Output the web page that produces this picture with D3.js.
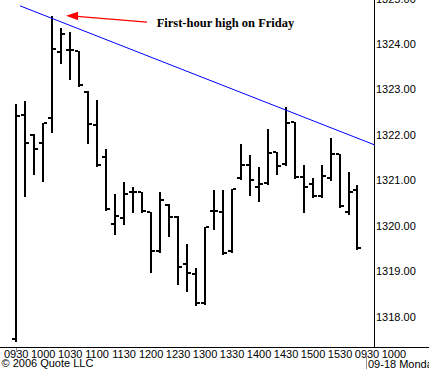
<!DOCTYPE html>
<html>
<head>
<meta charset="utf-8">
<script src="https://cdn.jsdelivr.net/npm/d3@7"></script>
<style>
  body { margin: 0; background: #fff; }
  svg { display: block; }
</style>
</head>
<body>
<div id="bar-chart"></div>
<script>
// 10-minute OHLC bars, Friday session (bar index 0 = 0930)
const opens = [1317.50, 1322.43, 1322.00, 1321.83, 1322.38, 1323.83, 1323.87, 1323.85, 1322.95, 1322.22,
  1321.51, 1320.05, 1320.18, 1320.75, 1320.75, 1320.30, 1319.45, 1320.45, 1320.19, 1319.16,
  1318.95, 1318.31, 1320.33, 1320.31, 1319.45, 1321.05, 1321.34, 1320.86, 1320.95, 1321.63,
  1321.35, 1322.29, 1321.08, 1320.93, 1320.66, 1321.05, 1321.58, 1320.30, 1320.79];
const highs = [1322.67, 1322.75, 1322.03, 1322.27, 1324.62, 1324.35, 1324.26, 1323.85, 1322.97, 1322.77,
  1321.70, 1320.69, 1320.97, 1320.86, 1320.75, 1320.31, 1320.75, 1320.47, 1320.22, 1319.59,
  1319.08, 1319.98, 1320.79, 1320.79, 1320.81, 1321.80, 1321.56, 1321.29, 1322.13, 1321.63,
  1322.62, 1322.29, 1321.34, 1321.06, 1321.34, 1321.94, 1321.58, 1321.18, 1320.90];
const lows = [1317.47, 1320.66, 1321.13, 1320.99, 1322.07, 1323.58, 1323.22, 1323.08, 1321.83, 1321.32,
  1320.35, 1319.81, 1320.05, 1320.30, 1320.31, 1318.98, 1319.42, 1319.78, 1318.73, 1318.57,
  1318.26, 1318.29, 1319.94, 1319.38, 1319.43, 1321.02, 1320.68, 1320.55, 1320.93, 1321.13,
  1321.34, 1321.06, 1320.30, 1320.63, 1320.63, 1321.01, 1320.42, 1320.26, 1319.49];
const closes = [1322.42, 1321.83, 1321.70, 1322.27, 1323.89, 1324.21, 1323.87, 1323.10, 1322.24, 1321.34,
  1320.36, 1320.22, 1320.71, 1320.75, 1320.32, 1319.45, 1320.57, 1320.19, 1319.10, 1318.97,
  1318.31, 1319.98, 1320.33, 1319.41, 1320.81, 1321.34, 1321.01, 1320.93, 1321.61, 1321.32,
  1322.27, 1321.08, 1320.85, 1320.66, 1321.10, 1321.59, 1320.44, 1320.75, 1319.52];

const timeLabels = ["0930", "1000", "1030", "1100", "1130", "1200", "1230", "1300", "1330",
  "1400", "1430", "1500", "1530", "0930", "1000"];
const timeLabelBars = [0, 3, 6, 9, 12, 15, 18, 21, 24, 27, 30, 33, 36, 39, 42];
const priceTicks = [1318, 1319, 1320, 1321, 1322, 1323, 1324, 1325];
const dayStarts = [0, 39];
const dayLabels = ["", "09-18 Monday"];

// trend line across Friday highs, and the annotation
const trendBars = [0.48, 39.9];
const trendPrices = [1324.84, 1321.78];
const arrowBars = [14.6, 5.6];
const arrowPrices = [1324.48, 1324.62];
const noteText = "First-hour high on Friday";
const noteBar = 15.67;
const notePrice = 1324.38;

const width = 429;
const height = 369;
const plotRight = 374.5;
const plotBottom = 347;

const bars = opens.map((o, i) => ({ i, o, h: highs[i], l: lows[i], c: closes[i] }));

const svg = d3.select("#bar-chart")
  .append("svg")
  .attr("width", width)
  .attr("height", height)
  .attr("viewBox", `0 0 ${width} ${height}`);

svg.append("rect").attr("width", width).attr("height", height).attr("fill", "#fff");

const xScale = d3.scaleLinear()
  .domain([-1.744, 39.89])
  .range([0, plotRight]);
const yScale = d3.scaleLinear()
  .domain([1318, 1324])
  .range([316.7, 44]);

// axis lines
svg.append("line")
  .attr("x1", 0).attr("x2", width)
  .attr("y1", plotBottom + 0.5).attr("y2", plotBottom + 0.5)
  .attr("stroke", "#000");
svg.append("line")
  .attr("x1", plotRight).attr("x2", plotRight)
  .attr("y1", 0).attr("y2", plotBottom)
  .attr("stroke", "#000");

// price labels on the right
const rightAxis = d3.axisRight(yScale)
  .tickValues(priceTicks)
  .tickFormat(d3.format(".2f"))
  .tickSize(0)
  .tickPadding(1.5);
svg.append("g")
  .attr("transform", `translate(${plotRight},0)`)
  .call(rightAxis)
  .call(g => g.select(".domain").remove())
  .selectAll("text")
    .attr("font-family", "Liberation Sans, Arial, sans-serif")
    .attr("font-size", 11)
    .attr("fill", "#000");

// time labels under the chart
const bottomAxis = d3.axisBottom(xScale)
  .tickValues(timeLabelBars)
  .tickFormat((d, k) => timeLabels[k])
  .tickSize(0)
  .tickPadding(3);
svg.append("g")
  .attr("transform", `translate(0,${plotBottom})`)
  .call(bottomAxis)
  .call(g => g.select(".domain").remove())
  .selectAll("text")
    .attr("font-family", "Liberation Sans, Arial, sans-serif")
    .attr("font-size", 11)
    .attr("fill", "#000");

// day separators
svg.selectAll(".day-sep")
  .data(dayStarts)
  .join("line")
    .attr("class", "day-sep")
    .attr("x1", d => Math.round(xScale(d)) + 0.5)
    .attr("x2", d => Math.round(xScale(d)) + 0.5)
    .attr("y1", (d, k) => k === 0 ? plotBottom + 1 : 356)
    .attr("y2", (d, k) => k === 0 ? plotBottom + 5 : 369)
    .attr("stroke", "#999");
svg.selectAll(".day-label")
  .data(dayStarts)
  .join("text")
    .attr("class", "day-label")
    .attr("x", d => xScale(d) + 1.5)
    .attr("y", 368)
    .attr("font-family", "Liberation Sans, Arial, sans-serif")
    .attr("font-size", 11)
    .text((d, k) => dayLabels[k]);

svg.append("text")
  .attr("x", 1.5)
  .attr("y", 367)
  .attr("font-family", "Liberation Sans, Arial, sans-serif")
  .attr("font-size", 11)
  .text("\u00a9 2006 Quote LLC");

// OHLC bars
const barG = svg.append("g").attr("shape-rendering", "crispEdges").attr("fill", "#000");
const bar = barG.selectAll("g")
  .data(bars)
  .join("g");
bar.append("rect")
  .attr("x", d => Math.round(xScale(d.i)) - 1)
  .attr("width", 2)
  .attr("y", d => Math.round(yScale(d.h)))
  .attr("height", d => Math.max(2, Math.round(yScale(d.l)) - Math.round(yScale(d.h)) + 1));
bar.append("rect")
  .attr("x", d => Math.round(xScale(d.i)) - 4)
  .attr("width", 3)
  .attr("y", d => Math.round(yScale(d.o)) - 1)
  .attr("height", 2);
bar.append("rect")
  .attr("x", d => Math.round(xScale(d.i)) + 1)
  .attr("width", 3)
  .attr("y", d => Math.round(yScale(d.c)) - 1)
  .attr("height", 2);

// blue trend line
svg.append("line")
  .attr("x1", xScale(trendBars[0])).attr("y1", yScale(trendPrices[0]))
  .attr("x2", xScale(trendBars[1])).attr("y2", yScale(trendPrices[1]))
  .attr("stroke", "#0000ff")
  .attr("stroke-width", 1);

// red arrow pointing to the first-hour high
const tailX = xScale(arrowBars[0]), tailY = yScale(arrowPrices[0]);
const tipX = xScale(arrowBars[1]), tipY = yScale(arrowPrices[1]);
svg.append("line")
  .attr("x1", tailX).attr("y1", tailY)
  .attr("x2", tipX + 11).attr("y2", tipY + 0.6)
  .attr("stroke", "#ff0000")
  .attr("stroke-width", 1.2);
svg.append("path")
  .attr("d", `M${tipX},${tipY} L${tipX + 12},${tipY - 4} L${tipX + 12},${tipY + 4.5} Z`)
  .attr("fill", "#ff0000");

svg.append("text")
  .attr("x", xScale(noteBar))
  .attr("y", yScale(notePrice))
  .attr("font-family", "Liberation Serif, Times New Roman, serif")
  .attr("font-weight", "bold")
  .attr("font-size", 12.5)
  .attr("fill", "#000")
  .text(noteText);
</script>
</body>
</html>
